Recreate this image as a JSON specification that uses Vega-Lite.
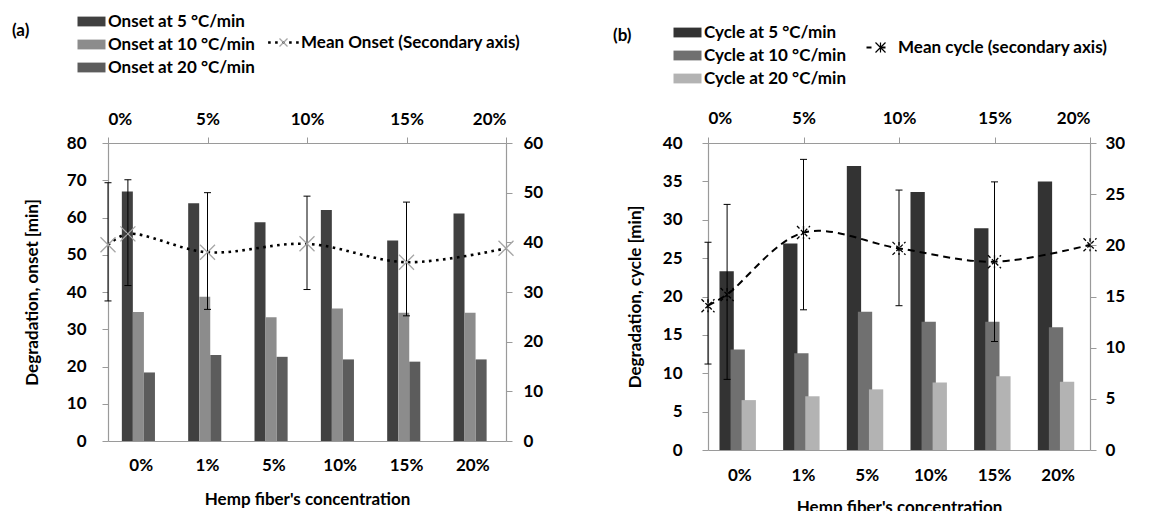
{
  "$schema": "https://vega.github.io/schema/vega-lite/v6.json",
  "padding": {"left": 12, "top": 13, "right": 0, "bottom": 0},
  "background": "white",
  "datasets": {
    "onset": [
      {"conc": "0%", "series": "Onset at 5 °C/min", "value": 67.0},
      {"conc": "0%", "series": "Onset at 10 °C/min", "value": 34.6},
      {"conc": "0%", "series": "Onset at 20 °C/min", "value": 18.4},
      {"conc": "1%", "series": "Onset at 5 °C/min", "value": 63.8},
      {"conc": "1%", "series": "Onset at 10 °C/min", "value": 38.7},
      {"conc": "1%", "series": "Onset at 20 °C/min", "value": 23.1},
      {"conc": "5%", "series": "Onset at 5 °C/min", "value": 58.7},
      {"conc": "5%", "series": "Onset at 10 °C/min", "value": 33.2},
      {"conc": "5%", "series": "Onset at 20 °C/min", "value": 22.6},
      {"conc": "10%", "series": "Onset at 5 °C/min", "value": 62.0},
      {"conc": "10%", "series": "Onset at 10 °C/min", "value": 35.6},
      {"conc": "10%", "series": "Onset at 20 °C/min", "value": 21.9},
      {"conc": "15%", "series": "Onset at 5 °C/min", "value": 53.8},
      {"conc": "15%", "series": "Onset at 10 °C/min", "value": 34.4},
      {"conc": "15%", "series": "Onset at 20 °C/min", "value": 21.3},
      {"conc": "20%", "series": "Onset at 5 °C/min", "value": 61.1},
      {"conc": "20%", "series": "Onset at 10 °C/min", "value": 34.4},
      {"conc": "20%", "series": "Onset at 20 °C/min", "value": 21.9}
    ],
    "onsetMean": [
      {"pct": 0, "mean": 39.5, "lo": 28.2, "hi": 52.0, "name": "Mean Onset (Secondary axis)", "marker": "x"},
      {"pct": 1, "mean": 41.7, "lo": 31.3, "hi": 52.6, "name": "Mean Onset (Secondary axis)", "marker": "x"},
      {"pct": 5, "mean": 38.0, "lo": 26.5, "hi": 50.0, "name": "Mean Onset (Secondary axis)", "marker": "x"},
      {"pct": 10, "mean": 39.7, "lo": 30.5, "hi": 49.3, "name": "Mean Onset (Secondary axis)", "marker": "x"},
      {"pct": 15, "mean": 36.0, "lo": 25.2, "hi": 48.1, "name": "Mean Onset (Secondary axis)", "marker": "x"},
      {"pct": 20, "mean": 38.8, "lo": null, "hi": null, "name": "Mean Onset (Secondary axis)", "marker": "x"}
    ],
    "cycle": [
      {"conc": "0%", "series": "Cycle at 5 °C/min", "value": 23.3},
      {"conc": "0%", "series": "Cycle at 10 °C/min", "value": 13.1},
      {"conc": "0%", "series": "Cycle at 20 °C/min", "value": 6.5},
      {"conc": "1%", "series": "Cycle at 5 °C/min", "value": 26.9},
      {"conc": "1%", "series": "Cycle at 10 °C/min", "value": 12.6},
      {"conc": "1%", "series": "Cycle at 20 °C/min", "value": 7.0},
      {"conc": "5%", "series": "Cycle at 5 °C/min", "value": 37.0},
      {"conc": "5%", "series": "Cycle at 10 °C/min", "value": 18.0},
      {"conc": "5%", "series": "Cycle at 20 °C/min", "value": 7.9},
      {"conc": "10%", "series": "Cycle at 5 °C/min", "value": 33.6},
      {"conc": "10%", "series": "Cycle at 10 °C/min", "value": 16.7},
      {"conc": "10%", "series": "Cycle at 20 °C/min", "value": 8.8},
      {"conc": "15%", "series": "Cycle at 5 °C/min", "value": 28.9},
      {"conc": "15%", "series": "Cycle at 10 °C/min", "value": 16.7},
      {"conc": "15%", "series": "Cycle at 20 °C/min", "value": 9.6},
      {"conc": "20%", "series": "Cycle at 5 °C/min", "value": 35.0},
      {"conc": "20%", "series": "Cycle at 10 °C/min", "value": 16.0},
      {"conc": "20%", "series": "Cycle at 20 °C/min", "value": 8.9}
    ],
    "cycleMean": [
      {"pct": 0, "mean": 14.1, "lo": 8.4, "hi": 20.3, "name": "Mean cycle (secondary axis)", "marker": "*"},
      {"pct": 1, "mean": 15.2, "lo": 6.9, "hi": 24.0, "name": "Mean cycle (secondary axis)", "marker": "*"},
      {"pct": 5, "mean": 21.25, "lo": 13.7, "hi": 28.4, "name": "Mean cycle (secondary axis)", "marker": "*"},
      {"pct": 10, "mean": 19.7, "lo": 14.1, "hi": 25.4, "name": "Mean cycle (secondary axis)", "marker": "*"},
      {"pct": 15, "mean": 18.4, "lo": 10.6, "hi": 26.2, "name": "Mean cycle (secondary axis)", "marker": "*"},
      {"pct": 20, "mean": 20.05, "lo": null, "hi": null, "name": "Mean cycle (secondary axis)", "marker": "*"}
    ]
  },
  "hconcat": [
    {
      "width": 398,
      "height": 298,
      "layer": [
        {
          "data": {"name": "onset"},
          "mark": {"type": "bar", "width": 11},
          "encoding": {
            "x": {
              "field": "conc", "type": "nominal",
              "sort": ["0%", "1%", "5%", "10%", "15%", "20%"],
              "scale": {"paddingInner": 0.5, "paddingOuter": 0.25},
              "axis": {"orient": "bottom", "title": "Hemp fiber's concentration", "labelAngle": 0, "ticks": false, "labelPadding": 16, "titlePadding": 18}
            },
            "xOffset": {
              "field": "series", "type": "nominal",
              "sort": ["Onset at 5 °C/min", "Onset at 10 °C/min", "Onset at 20 °C/min"],
              "scale": {"paddingInner": 0, "paddingOuter": 0}
            },
            "y": {
              "field": "value", "type": "quantitative",
              "scale": {"domain": [0, 80], "nice": false},
              "axis": {"orient": "left", "title": "Degradation, onset [min]", "values": [0, 10, 20, 30, 40, 50, 60, 70, 80], "labelPadding": 16, "titlePadding": 25}
            },
            "color": {
              "field": "series", "type": "nominal",
              "sort": ["Onset at 5 °C/min", "Onset at 10 °C/min", "Onset at 20 °C/min"],
              "scale": {"range": ["#404040", "#8c8c8c", "#5c5c5c"]},
              "legend": {
                "orient": "none", "legendX": -96, "legendY": -130,
                "title": "(a)", "titleOrient": "left", "titleAnchor": "start", "titlePadding": 53,
                "titleBaseline": "line-top", "titleLineHeight": 37,
                "symbolType": "M-2,-0.7H2V0.7H-2Z", "symbolSize": 196,
                "labelOffset": 8, "rowPadding": 5
              }
            }
          }
        },
        {
          "data": {"name": "onsetMean"},
          "encoding": {
            "x": {
              "field": "pct", "type": "quantitative",
              "scale": {"domain": [0, 20], "nice": false},
              "axis": {"orient": "top", "title": null, "values": [0, 5, 10, 15, 20], "labelExpr": "datum.value + '%'", "labelPadding": 9}
            }
          },
          "layer": [
            {
              "mark": {"type": "line", "interpolate": "catmull-rom", "strokeWidth": 2.6, "strokeDash": [2.6, 4.4]},
              "encoding": {
                "y": {"field": "mean", "type": "quantitative", "scale": {"domain": [0, 60], "nice": false},
                  "axis": {"orient": "right", "title": null, "values": [0, 10, 20, 30, 40, 50, 60], "labelPadding": 11}},
                "stroke": {
                  "field": "name", "type": "nominal", "scale": {"range": ["#000000"]},
                  "legend": {
                    "orient": "none", "legendX": 167, "legendY": -109, "title": null,
                    "symbolType": "M-2.2,0H2.2", "symbolSize": 196, "symbolStrokeWidth": 2.6, "symbolDash": [2.6, 4.4],
                    "labelOffset": 9
                  }
                }
              }
            },
            {
              "mark": {"type": "rule", "color": "#000000", "strokeWidth": 1},
              "encoding": {
                "y": {"field": "lo", "type": "quantitative", "scale": {"domain": [0, 60], "nice": false},
                  "axis": {"orient": "right", "title": null, "values": [0, 10, 20, 30, 40, 50, 60], "labelPadding": 11}},
                "y2": {"field": "hi"}
              }
            },
            {
              "mark": {"type": "point", "shape": "M-1,0H1", "size": 49, "stroke": "#000000", "strokeWidth": 1, "filled": false, "opacity": 1},
              "encoding": {
                "y": {"field": "lo", "type": "quantitative", "scale": {"domain": [0, 60], "nice": false},
                  "axis": {"orient": "right", "title": null, "values": [0, 10, 20, 30, 40, 50, 60], "labelPadding": 11}}
              }
            },
            {
              "mark": {"type": "point", "shape": "M-1,0H1", "size": 49, "stroke": "#000000", "strokeWidth": 1, "filled": false, "opacity": 1},
              "encoding": {
                "y": {"field": "hi", "type": "quantitative", "scale": {"domain": [0, 60], "nice": false},
                  "axis": {"orient": "right", "title": null, "values": [0, 10, 20, 30, 40, 50, 60], "labelPadding": 11}}
              }
            },
            {
              "mark": {"type": "point", "size": 225, "stroke": "#a6a6a6", "strokeWidth": 1.3, "filled": false, "opacity": 1},
              "encoding": {
                "y": {"field": "mean", "type": "quantitative", "scale": {"domain": [0, 60], "nice": false},
                  "axis": {"orient": "right", "title": null, "values": [0, 10, 20, 30, 40, 50, 60], "labelPadding": 11}},
                "shape": {
                  "field": "marker", "type": "nominal", "scale": {"range": ["M-1,-1L1,1M-1,1L1,-1"]},
                  "legend": {
                    "orient": "none", "legendX": 167, "legendY": -109, "title": null,
                    "symbolSize": 64, "symbolStrokeColor": "#a6a6a6", "symbolFillColor": "transparent", "symbolStrokeWidth": 1.3,
                    "labelExpr": "''"
                  }
                }
              }
            }
          ]
        }
      ],
      "resolve": {"scale": {"x": "independent", "y": "independent"}}
    },
    {
      "width": 382,
      "height": 307,
      "layer": [
        {
          "data": {"name": "cycle"},
          "mark": {"type": "bar", "width": 14.3},
          "encoding": {
            "x": {
              "field": "conc", "type": "nominal",
              "sort": ["0%", "1%", "5%", "10%", "15%", "20%"],
              "scale": {"paddingInner": 0.325, "paddingOuter": 0.1625},
              "axis": {"orient": "bottom", "title": "Hemp fiber's concentration", "labelAngle": 0, "ticks": false, "labelPadding": 17, "titlePadding": 16}
            },
            "xOffset": {
              "field": "series", "type": "nominal",
              "sort": ["Cycle at 5 °C/min", "Cycle at 10 °C/min", "Cycle at 20 °C/min"],
              "scale": {"paddingInner": 0, "paddingOuter": 0}
            },
            "y": {
              "field": "value", "type": "quantitative",
              "scale": {"domain": [0, 40], "nice": false},
              "axis": {"orient": "left", "title": "Degradation, cycle [min]", "values": [0, 5, 10, 15, 20, 25, 30, 35, 40], "labelPadding": 20, "titlePadding": 18}
            },
            "color": {
              "field": "series", "type": "nominal",
              "sort": ["Cycle at 5 °C/min", "Cycle at 10 °C/min", "Cycle at 20 °C/min"],
              "scale": {"range": ["#333333", "#707070", "#b3b3b3"]},
              "legend": {
                "orient": "none", "legendX": -95, "legendY": -119,
                "title": "(b)", "titleOrient": "left", "titleAnchor": "start", "titlePadding": 47,
                "titleBaseline": "line-top", "titleLineHeight": 24,
                "symbolType": "M-2,-0.7H2V0.7H-2Z", "symbolSize": 196,
                "labelOffset": 8, "rowPadding": 5
              }
            }
          }
        },
        {
          "data": {"name": "cycleMean"},
          "encoding": {
            "x": {
              "field": "pct", "type": "quantitative",
              "scale": {"domain": [0, 20], "nice": false},
              "axis": {"orient": "top", "title": null, "values": [0, 5, 10, 15, 20], "labelExpr": "datum.value + '%'", "labelPadding": 10}
            }
          },
          "layer": [
            {
              "mark": {"type": "line", "interpolate": "catmull-rom", "strokeWidth": 2, "strokeDash": [7, 5]},
              "encoding": {
                "y": {"field": "mean", "type": "quantitative", "scale": {"domain": [0, 30], "nice": false},
                  "axis": {"orient": "right", "title": null, "values": [0, 5, 10, 15, 20, 25, 30], "labelPadding": 9}},
                "stroke": {
                  "field": "name", "type": "nominal", "scale": {"range": ["#000000"]},
                  "legend": {
                    "orient": "none", "legendX": 164, "legendY": -104, "title": null,
                    "symbolType": "M-2,0H2", "symbolSize": 196, "symbolStrokeWidth": 2, "symbolDash": [5, 9],
                    "labelOffset": 9
                  }
                }
              }
            },
            {
              "mark": {"type": "rule", "color": "#000000", "strokeWidth": 1},
              "encoding": {
                "y": {"field": "lo", "type": "quantitative", "scale": {"domain": [0, 30], "nice": false},
                  "axis": {"orient": "right", "title": null, "values": [0, 5, 10, 15, 20, 25, 30], "labelPadding": 9}},
                "y2": {"field": "hi"}
              }
            },
            {
              "mark": {"type": "point", "shape": "M-1,0H1", "size": 49, "stroke": "#000000", "strokeWidth": 1, "filled": false, "opacity": 1},
              "encoding": {
                "y": {"field": "lo", "type": "quantitative", "scale": {"domain": [0, 30], "nice": false},
                  "axis": {"orient": "right", "title": null, "values": [0, 5, 10, 15, 20, 25, 30], "labelPadding": 9}}
              }
            },
            {
              "mark": {"type": "point", "shape": "M-1,0H1", "size": 49, "stroke": "#000000", "strokeWidth": 1, "filled": false, "opacity": 1},
              "encoding": {
                "y": {"field": "hi", "type": "quantitative", "scale": {"domain": [0, 30], "nice": false},
                  "axis": {"orient": "right", "title": null, "values": [0, 5, 10, 15, 20, 25, 30], "labelPadding": 9}}
              }
            },
            {
              "mark": {"type": "point", "size": 169, "stroke": "#000000", "strokeWidth": 1.3, "strokeDash": [3.5, 2], "filled": false, "opacity": 1},
              "encoding": {
                "y": {"field": "mean", "type": "quantitative", "scale": {"domain": [0, 30], "nice": false},
                  "axis": {"orient": "right", "title": null, "values": [0, 5, 10, 15, 20, 25, 30], "labelPadding": 9}},
                "shape": {
                  "field": "marker", "type": "nominal", "scale": {"range": ["M-1,-1L1,1M-1,1L1,-1M0,-1L0,1"]},
                  "legend": {
                    "orient": "none", "legendX": 164, "legendY": -104, "title": null,
                    "symbolSize": 100, "symbolStrokeColor": "#000000", "symbolFillColor": "transparent", "symbolStrokeWidth": 1.2,
                    "labelExpr": "''"
                  }
                }
              }
            }
          ]
        }
      ],
      "resolve": {"scale": {"x": "independent", "y": "independent"}}
    }
  ],
  "spacing": 202,
  "bounds": "flush",
  "resolve": {
    "scale": {"color": "independent", "stroke": "independent", "shape": "independent"},
    "legend": {"color": "independent", "stroke": "independent", "shape": "independent"}
  },
  "config": {
    "view": {"stroke": null},
    "axis": {
      "grid": false,
      "labelFont": "Lato", "labelFontWeight": "bold", "labelFontSize": 17, "labelColor": "#000000",
      "titleFont": "Lato", "titleFontWeight": "bold", "titleFontSize": 17, "titleColor": "#000000",
      "domainColor": "#9a9a9a", "tickColor": "#9a9a9a", "tickSize": 6, "domainWidth": 1.2
    },
    "legend": {
      "labelFont": "Lato", "labelFontWeight": "bold", "labelFontSize": 17, "labelColor": "#000000",
      "titleFont": "Lato", "titleFontWeight": "bold", "titleFontSize": 17, "titleColor": "#000000",
      "labelLimit": 400
    }
  }
}
